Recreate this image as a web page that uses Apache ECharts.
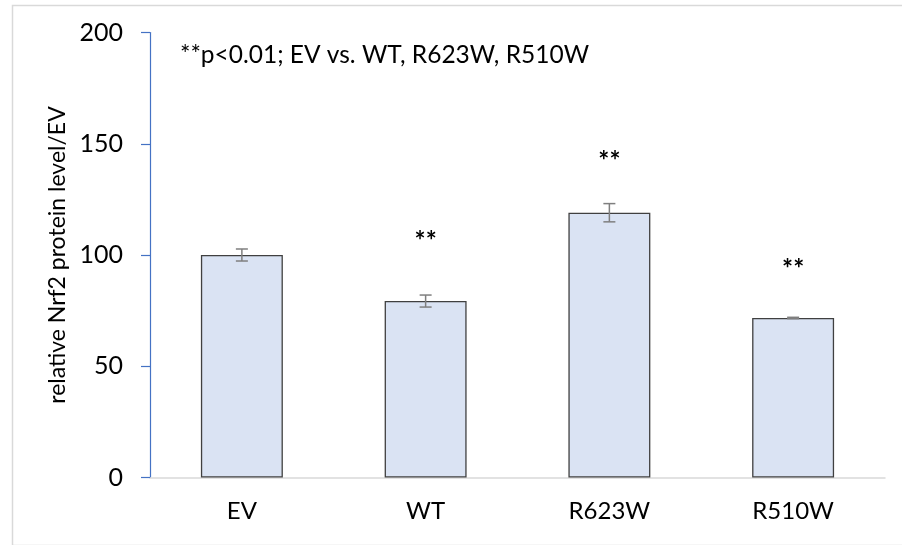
<!DOCTYPE html>
<html>
<head>
<meta charset="utf-8">
<script src="https://cdn.jsdelivr.net/npm/echarts@6/dist/echarts.min.js"></script>
<style>html,body{margin:0;padding:0;background:#fff}#chart{width:902px;height:545px}</style>
</head>
<body>
<div id="chart"></div>
<script>
const categories = ['EV', 'WT', 'R623W', 'R510W'];
const values = [100, 79.3, 119.0, 71.7];
const errors = [2.7, 2.7, 4.1, 0.3];
const starLabels = ['', '**', '**', '**'];
const starValues = [null, 105.8, 141.8, 93.3];
const yTicks = { min: 0, max: 200, interval: 50 };
const annotation = '**p<0.01; EV vs. WT, R623W, R510W';
const yName = 'relative Nrf2 protein level/EV';

const FONT = 'Lato';
const chart = echarts.init(document.getElementById('chart'), null, { renderer: 'canvas' });

const errData = categories.map((c, i) => [i, values[i] - errors[i], values[i] + errors[i]]);
const starData = categories.map((c, i) => starValues[i] == null ? null : [i, starValues[i], starLabels[i]]).filter(d => d);

chart.setOption({
  backgroundColor: '#fff',
  animation: false,
  textStyle: { fontFamily: FONT },
  title: {
    text: annotation,
    left: 175, top: 38,
    textStyle: { fontFamily: FONT, fontSize: 24.5, fontWeight: 'normal', color: '#000' }
  },
  graphic: [{
    type: 'rect', left: 10, top: 3, silent: true,
    shape: { width: 900, height: 540 },
    style: { fill: 'none', stroke: '#D9D9D9', lineWidth: 1.5 }
  }],
  grid: { left: 150, right: 17, top: 32.5, bottom: 67.5 },
  xAxis: {
    type: 'category', data: categories,
    axisLine: { lineStyle: { color: '#D9D9D9', width: 1.5 } },
    axisTick: { show: false },
    axisLabel: { fontFamily: FONT, fontSize: 24, color: '#000', margin: 22 }
  },
  yAxis: {
    type: 'value', min: yTicks.min, max: yTicks.max, interval: yTicks.interval,
    name: yName, nameLocation: 'middle', nameRotate: 90, nameGap: 78,
    nameTextStyle: { fontFamily: FONT, fontSize: 23, color: '#000' },
    axisLine: { show: true, lineStyle: { color: '#4472C4', width: 1.2 } },
    axisTick: { show: true, length: 9, lineStyle: { color: '#4472C4', width: 1.2 } },
    splitLine: { show: false },
    axisLabel: { fontFamily: FONT, fontSize: 25, color: '#000', margin: 27 }
  },
  series: [
    {
      type: 'bar', data: values, barWidth: '44.6%',
      itemStyle: { color: '#DAE3F3', borderColor: '#404040', borderWidth: 1.3 }
    },
    {
      type: 'custom', data: errData, z: 5,
      renderItem: function (params, api) {
        const x = api.value(0);
        const lo = api.coord([x, api.value(1)]);
        const hi = api.coord([x, api.value(2)]);
        const w = 6;
        const st = { stroke: '#7F7F7F', lineWidth: 1.5 };
        return {
          type: 'group', children: [
            { type: 'line', shape: { x1: lo[0], y1: lo[1], x2: hi[0], y2: hi[1] }, style: st },
            { type: 'line', shape: { x1: lo[0] - w, y1: lo[1], x2: lo[0] + w, y2: lo[1] }, style: st },
            { type: 'line', shape: { x1: hi[0] - w, y1: hi[1], x2: hi[0] + w, y2: hi[1] }, style: st }
          ]
        };
      }
    },
    {
      type: 'custom', data: starData, z: 6,
      renderItem: function (params, api) {
        const p = api.coord([api.value(0), api.value(1)]);
        return {
          type: 'text', x: p[0], y: p[1],
          style: { text: starLabels[api.value(0)], fill: '#000', font: 'bold 26px ' + FONT, align: 'center', verticalAlign: 'middle' }
        };
      }
    }
  ]
});
</script>
</body>
</html>
